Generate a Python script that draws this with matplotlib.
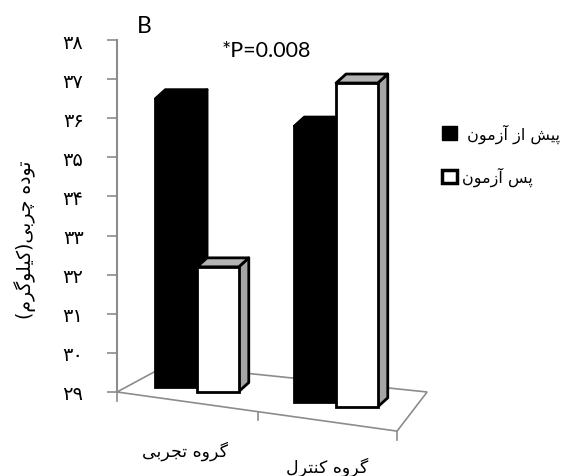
import matplotlib
matplotlib.use('Agg')
import matplotlib.pyplot as plt
from matplotlib.patches import Polygon, Patch

# داده‌ها
groups = ['گروه تجربی', 'گروه کنترل']
series = ['پیش از آزمون', 'پس آزمون']
pre_test = [36.5, 35.8]
post_test = [32.2, 36.9]
y_ticks = list(range(29, 39))
y_label = 'توده چربی(کیلوگرم)'
p_text = '*P=0.008'
panel = 'B'

# presentation forms: (isolated, final, initial, medial)
FORMS = {
    'ا': ('\uFE8D', '\uFE8E'),
    'آ': ('\uFE81', '\uFE82'),
    'ب': ('\uFE8F', '\uFE90', '\uFE91', '\uFE92'),
    'پ': ('\uFB56', '\uFB57', '\uFB58', '\uFB59'),
    'ت': ('\uFE95', '\uFE96', '\uFE97', '\uFE98'),
    'ج': ('\uFE9D', '\uFE9E', '\uFE9F', '\uFEA0'),
    'چ': ('\uFB7A', '\uFB7B', '\uFB7C', '\uFB7D'),
    'د': ('\uFEA9', '\uFEAA'),
    'ر': ('\uFEAD', '\uFEAE'),
    'ز': ('\uFEAF', '\uFEB0'),
    'س': ('\uFEB1', '\uFEB2', '\uFEB3', '\uFEB4'),
    'ش': ('\uFEB5', '\uFEB6', '\uFEB7', '\uFEB8'),
    'ک': ('\uFB8E', '\uFB8F', '\uFB90', '\uFB91'),
    'گ': ('\uFB92', '\uFB93', '\uFB94', '\uFB95'),
    'ل': ('\uFEDD', '\uFEDE', '\uFEDF', '\uFEE0'),
    'م': ('\uFEE1', '\uFEE2', '\uFEE3', '\uFEE4'),
    'ن': ('\uFEE5', '\uFEE6', '\uFEE7', '\uFEE8'),
    'و': ('\uFEED', '\uFEEE'),
    'ه': ('\uFEE9', '\uFEEA', '\uFEEB', '\uFEEC'),
    'ی': ('\uFBFC', '\uFBFD', '\uFBFE', '\uFBFF'),
}
MIRROR = {'(': ')', ')': '('}


def fa(text):
    # simple shaping + reversal, matplotlib has no bidi
    out = []
    n = len(text)
    for i, ch in enumerate(text):
        if ch not in FORMS:
            out.append(MIRROR.get(ch, ch))
            continue
        f = FORMS[ch]
        prev = text[i - 1] if i > 0 else ''
        nxt = text[i + 1] if i + 1 < n else ''
        join_prev = prev in FORMS and len(FORMS[prev]) == 4
        join_next = len(f) == 4 and nxt in FORMS
        if join_prev and join_next:
            out.append(f[3])
        elif join_prev:
            out.append(f[1])
        elif join_next:
            out.append(f[2])
        else:
            out.append(f[0])
    return ''.join(out[::-1])


def fa_num(v):
    return ''.join(chr(0x06F0 + int(d)) for d in str(v))


W, H = 571, 477
fig = plt.figure(figsize=(W / 100, H / 100), dpi=100)
ax = fig.add_axes([117 / W, (H - 393) / H, (400 - 117) / W, (393 - 41) / H])
ax.set_ylim(29, 38)
ax.set_xlim(-0.576, 1.46)

gray = '#8c8c8c'
for s in ['top', 'right', 'bottom']:
    ax.spines[s].set_visible(False)
ax.spines['left'].set_color(gray)
ax.spines['left'].set_linewidth(1.5)
ax.set_xticks([])
ax.set_yticks(y_ticks)
ax.set_yticklabels([fa_num(t) for t in y_ticks], family=['DejaVu Sans'], fontsize=14)
ax.tick_params(axis='y', direction='out', length=7, width=1.2, color=gray, pad=17)

# floor
floor = [(-0.576, 29.0), (1.439, 28.0), (1.655, 29.0), (-0.216, 29.69)]
ax.add_patch(Polygon(floor, closed=True, fill=False, edgecolor=gray, lw=1.2,
                     clip_on=False, zorder=1))
for fx in [-0.576, 0.44, 1.439]:
    fy = 29.0 + (fx + 0.576) / (1.439 + 0.576) * (28.0 - 29.0)
    ax.plot([fx, fx], [fy, fy - 0.22], color=gray, lw=1.2, clip_on=False, zorder=1)

w = 0.30
dx, dy = 0.072, 0.23


def bottom_at(x):
    return 29.07 - 0.39 * x


def bar3d(x, v, face, top, side, z):
    b = bottom_at(x)
    x0, x1 = x - w / 2, x + w / 2
    ax.add_patch(Polygon([(x1, b), (x1 + dx, b + dy), (x1 + dx, v + dy), (x1, v)],
                         facecolor=side, edgecolor='black', lw=2, joinstyle='round',
                         clip_on=False, zorder=z))
    ax.add_patch(Polygon([(x0, v), (x0 + dx, v + dy), (x1 + dx, v + dy), (x1, v)],
                         facecolor=top, edgecolor='black', lw=2, joinstyle='round',
                         clip_on=False, zorder=z))
    ax.bar(x, v - b, bottom=b, width=w, color=face, edgecolor='black', lw=2,
           clip_on=False, zorder=z + 0.5)


for i in range(len(groups)):
    bar3d(i - w / 2, pre_test[i], 'black', 'black', 'black', 3)
    bar3d(i + w / 2, post_test[i], 'white', '#b4b4b4', '#a5a5a5', 4)

# group labels under the floor
fig.text(185 / W, 1 - 451 / H, fa(groups[0]), family=['DejaVu Sans'], fontsize=12.5,
         ha='center', va='center')
fig.text(327 / W, 1 - 467 / H, fa(groups[1]), family=['DejaVu Sans'], fontsize=12.5,
         ha='center', va='center')

fig.text(25 / W, 1 - 240 / H, fa(y_label), family=['DejaVu Sans'], fontsize=13.5,
         rotation=90, ha='center', va='center')

fig.text(137 / W, 1 - 33 / H, panel, family=['Lato'], fontsize=16.5, va='baseline')
fig.text(222 / W, 1 - 57 / H, p_text, family=['Lato'], fontsize=15.5, va='baseline')

handles = [Patch(facecolor='black', edgecolor='black'),
           Patch(facecolor='white', edgecolor='black', lw=2.5)]
labels = [' ' + fa(series[0]), fa(series[1])]
fig.legend(handles, labels, loc='upper left', bbox_to_anchor=(436 / W, 1 - 118 / H),
           frameon=False, handlelength=0.9, handleheight=0.9, handletextpad=0.3,
           labelspacing=1.5, borderaxespad=0, prop={'family': ['DejaVu Sans'], 'size': 11.5})

fig.savefig('out.png', dpi=100)
